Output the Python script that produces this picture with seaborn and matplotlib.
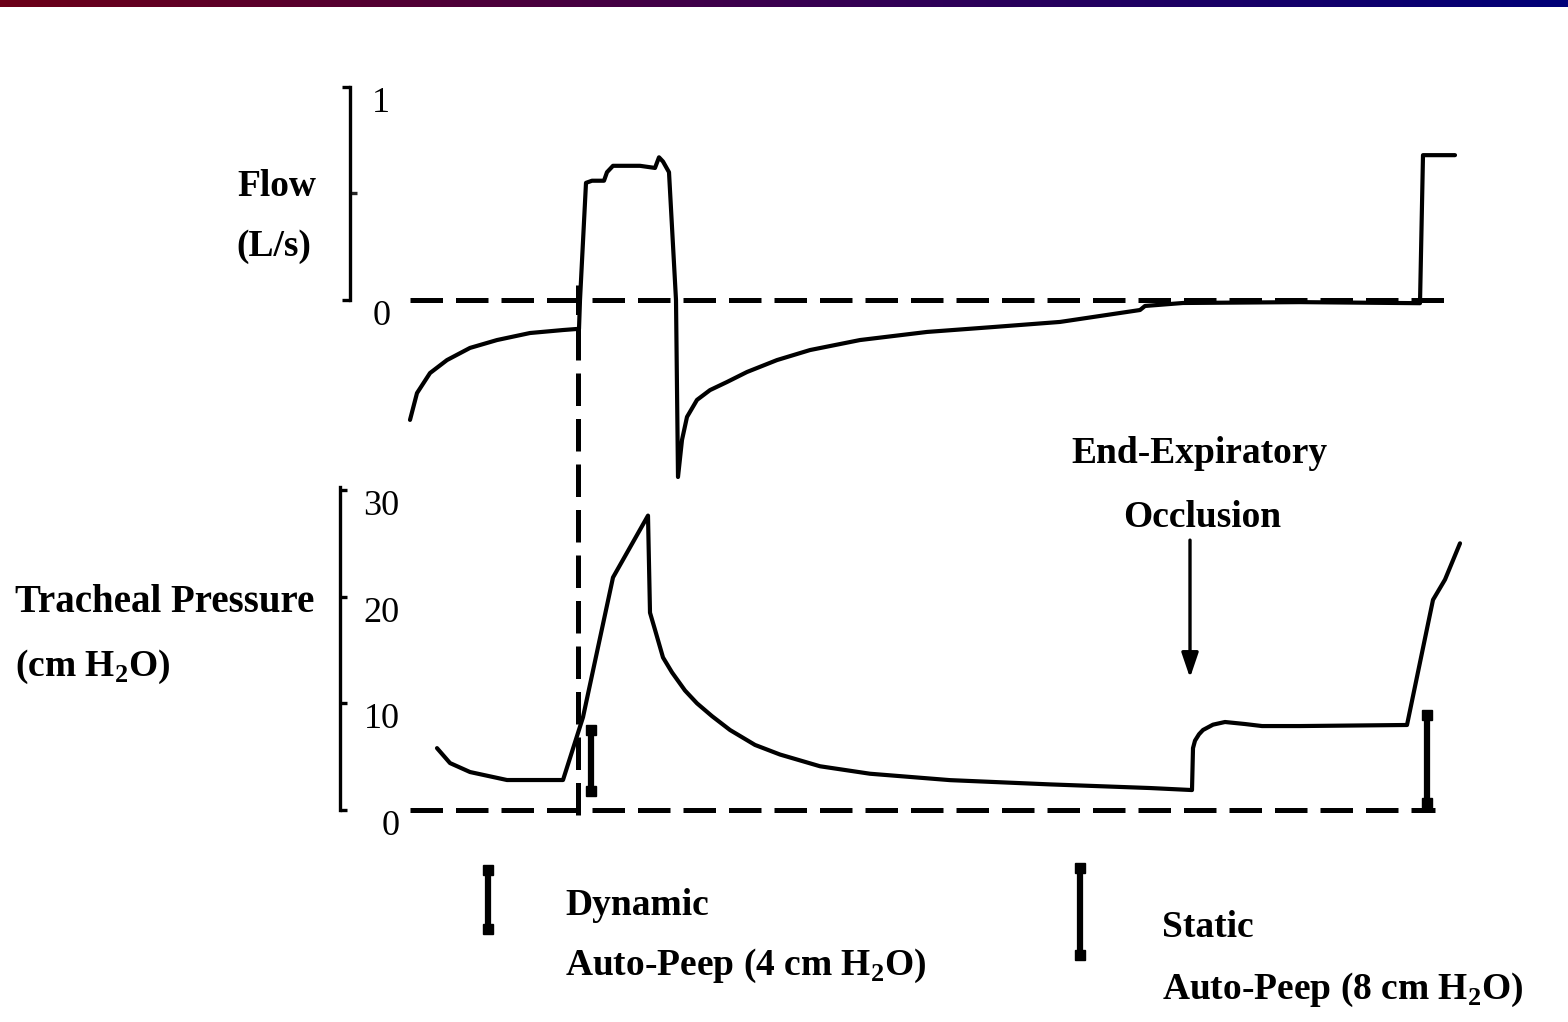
import numpy as np
import pandas as pd
import matplotlib
matplotlib.use("Agg")
import matplotlib.pyplot as plt
from matplotlib.colors import LinearSegmentedColormap
import seaborn as sns

# ---------------- data (time in s, flow in L/s, pressure in cm H2O) ----------------
flow_t = [0.10, 0.17, 0.30, 0.47, 0.70, 0.97, 1.30, 1.63, 1.77, 1.79, 1.80, 1.86,
          1.92, 2.04, 2.07, 2.13, 2.40, 2.55, 2.59, 2.63, 2.69, 2.76, 2.78, 2.82,
          2.87, 2.97, 3.10, 3.27, 3.47, 3.77, 4.10, 4.60, 5.27, 5.93, 6.60, 7.40,
          7.45, 7.83, 9.00, 10.20, 10.23, 10.55]
flow_v = [-0.563, -0.437, -0.343, -0.282, -0.225, -0.188, -0.155, -0.141, -0.136, -0.136, 0.0, 0.55,
          0.56, 0.56, 0.60, 0.63, 0.63, 0.62, 0.67, 0.65, 0.60, 0.0, -0.831, -0.657,
          -0.549, -0.469, -0.423, -0.385, -0.338, -0.282, -0.235, -0.188, -0.150, -0.127, -0.103, -0.047,
          -0.028, -0.014, -0.01, -0.015, 0.68, 0.68]

pres_t = [0.37, 0.50, 0.70, 1.07, 1.63, 1.83, 2.13, 2.48, 2.50, 2.55, 2.63, 2.72,
          2.85, 2.97, 3.12, 3.30, 3.55, 3.80, 4.20, 4.70, 5.50, 6.50, 7.50, 7.92,
          7.93, 7.95, 7.99, 8.03, 8.13, 8.25, 8.45, 8.62, 9.00, 10.07, 10.33, 10.45, 10.60]
pres_v = [5.8, 4.4, 3.56, 2.81, 2.81, 8.7, 21.8, 27.6, 18.5, 16.9, 14.3, 12.9,
          11.2, 10.0, 8.8, 7.5, 6.1, 5.2, 4.1, 3.4, 2.8, 2.4, 2.06, 1.87,
          5.8, 6.5, 7.1, 7.5, 8.0, 8.25, 8.06, 7.87, 7.87, 7.97, 19.7, 21.6, 25.0]

flow_ticks = [0, 1]
flow_ticklabels = ["0", "1"]
pres_ticks = [0, 10, 20, 30]
pres_ticklabels = ["0", "10", "20", "30"]

dynamic_bar = (1.91, 1.75, 7.5)      # t, p_low, p_high
static_bar = (10.27, 0.7, 8.9)
occlusion_t = 7.9

# ---------------- style ----------------
sns.set_theme(style="white")
plt.rcParams['font.family'] = ['Liberation Serif', 'DejaVu Serif']
plt.rcParams['axes.facecolor'] = 'none'

W, H = 1568, 1022
fig = plt.figure(figsize=(W / 100, H / 100), dpi=100)
fig.patch.set_facecolor('white')

def fx(px):
    return px / W

def fy(py):
    return 1 - py / H

PXT = 100.0          # pixels per second
T0PX = 400.0         # pixel of t = 0
RIGHT_PX = 1470.0

# flow axes geometry
F0PY, FPU = 300.0, 213.0
f_ylim = (-0.9, 1.02)
f_left = 350.0
f_top = F0PY - f_ylim[1] * FPU
f_bot = F0PY - f_ylim[0] * FPU
axf = fig.add_axes([fx(f_left), fy(f_bot), (RIGHT_PX - f_left) / W, (f_bot - f_top) / H])
axf.set_xlim((f_left - T0PX) / PXT, (RIGHT_PX - T0PX) / PXT)
axf.set_ylim(*f_ylim)

# pressure axes geometry
P0PY, PPU = 810.0, 10.667
p_ylim = (-1.5, 32)
p_left = 340.0
p_top = P0PY - p_ylim[1] * PPU
p_bot = P0PY - p_ylim[0] * PPU
axp = fig.add_axes([fx(p_left), fy(p_bot), (RIGHT_PX - p_left) / W, (p_bot - p_top) / H])
axp.set_xlim((p_left - T0PX) / PXT, (RIGHT_PX - T0PX) / PXT)
axp.set_ylim(*p_ylim)

LW = 3.0
dash = dict(color='black', lw=3.6, dashes=(6.5, 2.6))

df_flow = pd.DataFrame({'t': flow_t, 'flow': flow_v})
df_pres = pd.DataFrame({'t': pres_t, 'p': pres_v})

sns.lineplot(data=df_flow, x='t', y='flow', ax=axf, sort=False, estimator=None,
             color='black', lw=LW)
sns.lineplot(data=df_pres, x='t', y='p', ax=axp, sort=False, estimator=None,
             color='black', lw=LW)

# zero reference lines
axf.plot([0.1, 10.55], [0, 0], **dash)
axp.plot([0.1, 10.35], [0, 0], **dash)
# vertical dashed line through both panels (start of inspiration)
axp.plot([1.78, 1.78], [-0.5, 49.2], clip_on=False, **dash)

for ax in (axf, axp):
    for s in ('top', 'right', 'bottom'):
        ax.spines[s].set_visible(False)
    ax.spines['left'].set_color('black')
    ax.spines['left'].set_linewidth(2.4)
    ax.set_xticks([])
    ax.set_xlabel('')
    ax.set_ylabel('')
    ax.grid(False)

axf.spines['left'].set_bounds(0, 1)
axp.spines['left'].set_bounds(0, 30.3)

axf.set_yticks(flow_ticks)
axf.set_yticklabels(flow_ticklabels, va='top')
axf.set_yticks([0.5], minor=True)
axf.tick_params(axis='y', which='major', direction='out', length=6, width=2.4,
                pad=-35, labelsize=26, colors='black', left=True)
axf.tick_params(axis='y', which='minor', direction='in', length=5, width=2.4, left=True)

axp.set_yticks(pres_ticks)
axp.set_yticklabels(pres_ticklabels, va='top')
axp.tick_params(axis='y', which='major', direction='in', length=5, width=2.4,
                pad=-43, labelsize=26, colors='black', left=True)

# I-bars
def ibar(ax, t, y0, y1):
    ax.plot([t, t], [y0, y1], color='black', lw=4.5, solid_capstyle='butt', clip_on=False)
    ax.plot([t, t], [y0, y1], ls='none', marker='s', ms=6.5, color='black', clip_on=False)

ibar(axp, *dynamic_bar)
ibar(axp, *static_bar)
ibar(axp, 0.88, -11.2, -5.6)     # legend key: dynamic
ibar(axp, 6.80, -13.6, -5.4)     # legend key: static

# occlusion arrow
axp.annotate('', xy=(occlusion_t, 12.4), xytext=(occlusion_t, 25.3),
             arrowprops=dict(arrowstyle='-|>,head_width=0.17,head_length=0.5',
                             lw=2.4, color='black', mutation_scale=30,
                             shrinkA=0, shrinkB=0), annotation_clip=False)

# labels
bold = dict(fontsize=27, fontweight='bold', color='black')
fig.text(fx(277), fy(187), 'Flow', ha='center', va='center', **bold)
fig.text(fx(274), fy(247), '(L/s)', ha='center', va='center', **bold)
fig.text(fx(15), fy(602), 'Tracheal Pressure', ha='left', va='center',
         fontsize=28, fontweight='bold', color='black')
fig.text(fx(15), fy(667), r'(cm H$_\mathregular{2}$O)', ha='left', va='center', **bold)
fig.text(fx(1199), fy(453), 'End-Expiratory', ha='center', va='center', **bold)
fig.text(fx(1202), fy(517), 'Occlusion', ha='center', va='center', **bold)
fig.text(fx(565), fy(905), 'Dynamic', ha='left', va='center', **bold)
fig.text(fx(565), fy(966), r'Auto-Peep (4 cm H$_\mathregular{2}$O)', ha='left', va='center', **bold)
fig.text(fx(1162), fy(927), 'Static', ha='left', va='center', **bold)
fig.text(fx(1162), fy(990), r'Auto-Peep (8 cm H$_\mathregular{2}$O)', ha='left', va='center', **bold)

# decorative gradient bar at top
cmap = LinearSegmentedColormap.from_list('bar', ['#6c0018', '#3a0050', '#000078'])
axb = fig.add_axes([0, 1 - 7 / H, 1, 7 / H])
axb.imshow(np.linspace(0, 1, 512)[None, :], cmap=cmap, aspect='auto')
axb.set_axis_off()

fig.savefig('out.png', dpi=100)
